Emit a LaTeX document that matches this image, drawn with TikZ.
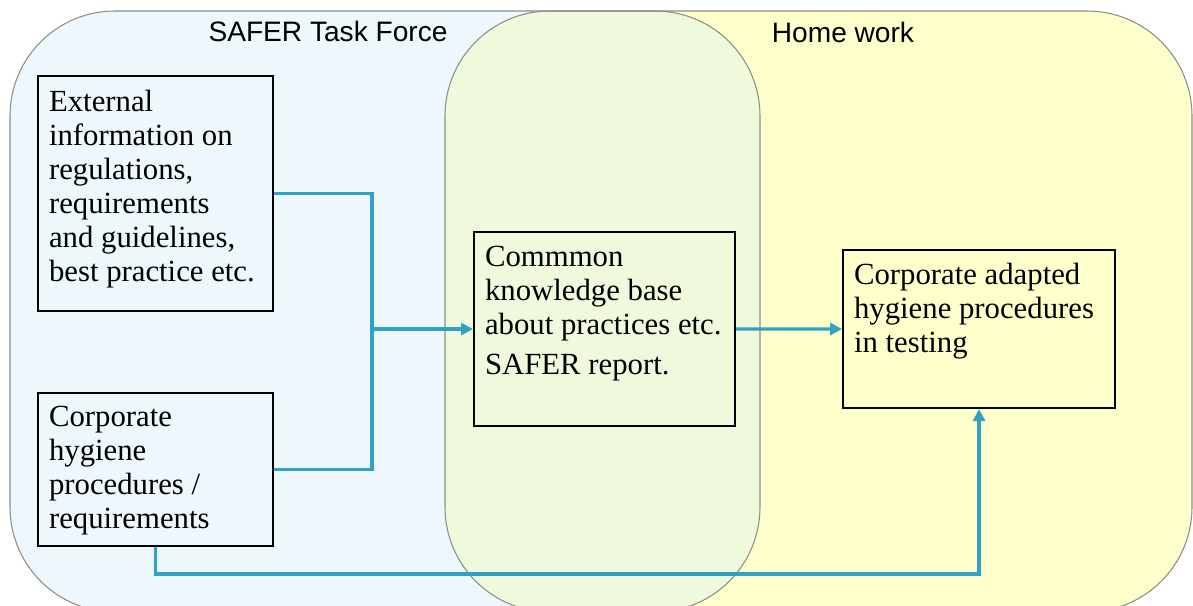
\documentclass[tikz,border=0pt]{standalone}
\usepackage{fontspec}
\setmainfont{Liberation Serif}
\newfontfamily\headfont{Liberation Sans}
\usetikzlibrary{positioning,arrows.meta,calc}
\definecolor{TaskBlue}{HTML}{EEF7FB}
\definecolor{HomeYel}{HTML}{FFFFCC}
\definecolor{BothGrn}{HTML}{EFFADD}
\definecolor{LinkCol}{HTML}{30A2C6}
\newcommand{\boxtxt}[3]{\parbox[c][#2][t]{#1}{\raggedright #3}}

\begin{document}
\begin{tikzpicture}[x=0.02cm, y=-0.02cm,
  infobox/.style={draw=black, line width=1.2pt, rectangle, anchor=north west, inner xsep=0.22cm, inner ysep=0.28cm, font=\fontsize{17.5}{19.4}\selectfont},
  region/.style={draw=black!45, line width=0.6pt, rounded corners=2.1cm},
  headlab/.style={font=\headfont\fontsize{16}{19}\selectfont},
  link/.style={draw=LinkCol, line width=1.9pt},
  arr/.style={link, -{Triangle[length=0.24cm,width=0.24cm]}}]
  \useasboundingbox (0,0) rectangle (1193,605);
  \clip (0,0) rectangle (1193,605);

  % the two working areas and their overlap
  \fill[HomeYel, rounded corners=2.1cm] (445,11) rectangle (1192,612);
  \fill[TaskBlue, rounded corners=2.1cm] (10,11) rectangle (760,612);
  \begin{scope}
    \clip[rounded corners=2.1cm] (10,11) rectangle (760,612);
    \fill[BothGrn, rounded corners=2.1cm] (445,11) rectangle (1192,612);
  \end{scope}
  \draw[region] (445,11) rectangle (1192,612);
  \draw[region] (10,11) rectangle (760,612);

  \node[headlab] (tasklab) at (328,31) {SAFER Task Force};
  \node[headlab] (homelab) at (843,32) {Home work};

  % boxes
  \node[infobox] (ext) at (37,75) {\boxtxt{4.26cm}{4.14cm}{External\\ information on\\ regulations,\\ requirements\\ and guidelines,\\ best practice etc.}};
  \node[infobox, inner ysep=0.26cm] (corp) at (37,392) {\boxtxt{4.26cm}{2.54cm}{Corporate\\ hygiene\\ procedures /\\ requirements}};
  \node[infobox] (common) at (473,231) {\boxtxt{4.78cm}{3.32cm}{Commmon\\ knowledge base\\ about practices etc.\\[0.12cm] SAFER report.}};
  \node[infobox, inner ysep=0.26cm] (adapted) at (842,249) {\boxtxt{5.0cm}{2.64cm}{Corporate adapted\\ hygiene procedures\\ in testing}};

  % connectors
  \coordinate (join) at ($(common.west)+(-101,0)$);
  \coordinate (low) at (0,574);
  \draw[link] (ext.east) -| (join) -- (join |- corp.east) -- (corp.east);
  \draw[arr] (join) -- (common.west);
  \draw[arr] (common.east) -- (adapted.west);
  \draw[arr] (corp.south) -- (corp.south |- low) -| (adapted.south);
\end{tikzpicture}
\end{document}
